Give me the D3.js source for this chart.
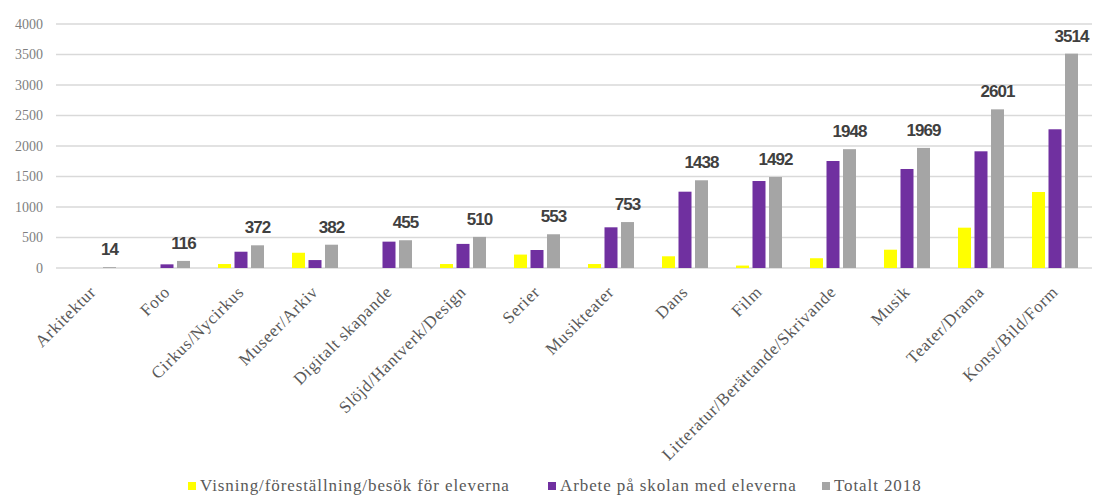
<!DOCTYPE html>
<html>
<head>
<meta charset="utf-8">
<script src="https://cdn.jsdelivr.net/npm/d3@7"></script>
<style>
  body { margin: 0; background: #fff; }
  svg { display: block; }
</style>
</head>
<body>
<svg id="chart" width="1093" height="496"></svg>
<script>
// categories and series values
var categories = ["Arkitektur", "Foto", "Cirkus/Nycirkus", "Museer/Arkiv", "Digitalt skapande",
  "Slöjd/Hantverk/Design", "Serier", "Musikteater", "Dans", "Film",
  "Litteratur/Berättande/Skrivande", "Musik", "Teater/Drama", "Konst/Bild/Form"];

var visning = [0, 0, 65, 250, 0, 65, 220, 65, 192, 40, 160, 300, 661, 1246];
var arbete = [0, 60, 267, 130, 432, 395, 295, 667, 1251, 1426, 1754, 1623, 1913, 2274];
var totalt = [14, 116, 372, 382, 455, 510, 553, 753, 1438, 1492, 1948, 1969, 2601, 3514];

var seriesNames = ["Visning/föreställning/besök för eleverna", "Arbete på skolan med eleverna", "Totalt 2018"];
var seriesColors = ["#ffff00", "#7030a0", "#a5a5a5"];
var yTicks = [0, 500, 1000, 1500, 2000, 2500, 3000, 3500, 4000];

var svg = d3.select("#chart");
var plotLeft = 56, plotRight = 1092, plotTop = 24, plotBottom = 268;

var x0 = d3.scaleBand().domain(categories).range([plotLeft, plotRight]);
var groupW = 46;
var x1 = d3.scaleBand().domain(d3.range(3))
  .range([x0.bandwidth() / 2 - groupW / 2, x0.bandwidth() / 2 + groupW / 2])
  .paddingInner(0.212);
var y = d3.scaleLinear().domain([0, 4000]).range([plotBottom, plotTop]);

// gridlines
svg.append("g").selectAll("line").data(yTicks).enter().append("line")
  .attr("x1", plotLeft).attr("x2", plotRight)
  .attr("y1", function(d){ return y(d); }).attr("y2", function(d){ return y(d); })
  .attr("stroke", "#d9d9d9").attr("stroke-width", 1.3);

// y axis labels
var yAxis = d3.axisLeft(y).tickValues(yTicks).tickFormat(d3.format("d")).tickSize(0).tickPadding(0);
svg.append("g").attr("transform", "translate(43,0)").call(yAxis)
  .call(function(g){ g.select(".domain").remove(); })
  .selectAll("text")
  .attr("font-family", "Liberation Serif, serif").attr("font-size", 14).attr("fill", "#7f7f7f");

// bars
var rows = categories.map(function(c, i){ return { cat: c, vals: [visning[i], arbete[i], totalt[i]] }; });
var groups = svg.append("g").selectAll("g").data(rows).enter().append("g")
  .attr("transform", function(d){ return "translate(" + x0(d.cat) + ",0)"; });

groups.selectAll("rect").data(function(d){ return d.vals.map(function(v, k){ return { k: k, v: v }; }); })
  .enter().append("rect")
  .attr("x", function(d){ return x1(d.k); })
  .attr("width", x1.bandwidth())
  .attr("y", function(d){ return y(d.v); })
  .attr("height", function(d){ return plotBottom - y(d.v); })
  .attr("fill", function(d){ return seriesColors[d.k]; });

// total labels
groups.append("text")
  .attr("x", x1(2) + x1.bandwidth() / 2)
  .attr("y", function(d){ return y(d.vals[2]) - 12; })
  .attr("text-anchor", "middle")
  .attr("font-family", "Liberation Sans, Arial, sans-serif")
  .attr("font-weight", "bold").attr("font-size", 17)
  .attr("letter-spacing", -1)
  .attr("fill", "#404040")
  .text(function(d){ return d.vals[2]; });

// category labels
svg.append("g").selectAll("text").data(categories).enter().append("text")
  .attr("transform", function(d){ return "translate(" + (x0(d) + x0.bandwidth() / 2 + 4) + ",293) rotate(-45)"; })
  .attr("text-anchor", "end")
  .attr("font-family", "Liberation Serif, serif").attr("font-size", 17)
  .attr("letter-spacing", 0.7)
  .attr("fill", "#595959")
  .text(function(d){ return d; });

// legend
var legendX = [188, 548, 822];
var legend = svg.append("g").selectAll("g").data(seriesNames).enter().append("g")
  .attr("transform", function(d, i){ return "translate(" + legendX[i] + ",482)"; });
legend.append("rect").attr("x", 0).attr("y", 0).attr("width", 8).attr("height", 8)
  .attr("fill", function(d, i){ return seriesColors[i]; });
legend.append("text").attr("x", 12).attr("y", 9)
  .attr("font-family", "Liberation Serif, serif").attr("font-size", 17)
  .attr("letter-spacing", 0.9)
  .attr("fill", "#595959")
  .text(function(d){ return d; });
</script>
</body>
</html>
